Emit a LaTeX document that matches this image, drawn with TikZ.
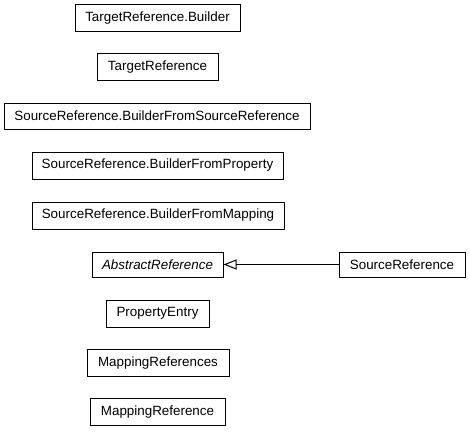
\documentclass[tikz,border=0pt]{standalone}
\usepackage{fontspec}
\setmainfont{Liberation Sans}
\usetikzlibrary{arrows.meta}
\begin{document}
\begin{tikzpicture}[x=1pt,y=-1pt,
  cls/.style={draw=black, line width=1pt, fill=white, minimum height=27pt, inner sep=0pt,
    font=\fontsize{13.4}{15}\selectfont, text=black},
  gen/.style={line width=1pt, -{Triangle[open,length=13pt,width=10pt]}}]
\useasboundingbox (0,0) rectangle (470,431);
\node[cls, minimum width=165pt] (trb) at (157.5,18) {TargetReference.Builder};
\node[cls, minimum width=121pt] (tr) at (157.5,67) {TargetReference};
\node[cls, minimum width=306pt, minimum height=26pt] (srbsr) at (157,116) {SourceReference.BuilderFromSourceReference};
\node[cls, minimum width=251pt] (srbp) at (157.5,165.5) {SourceReference.BuilderFromProperty};
\node[cls, minimum width=252pt] (srbm) at (158,215.5) {SourceReference.BuilderFromMapping};
\node[cls, minimum width=131pt, minimum height=25pt] (ar) at (157.5,264.5) {\itshape AbstractReference};
\node[cls, minimum width=126pt, minimum height=25pt] (sr) at (402,264.5) {SourceReference};
\node[cls, minimum width=103pt] (pe) at (157.5,313.5) {PropertyEntry};
\node[cls, minimum width=142pt] (mrs) at (158,363) {MappingReferences};
\node[cls, minimum width=135pt] (mr) at (157.5,412) {MappingReference};
\draw[gen] (sr) -- (ar);
\end{tikzpicture}
\end{document}
